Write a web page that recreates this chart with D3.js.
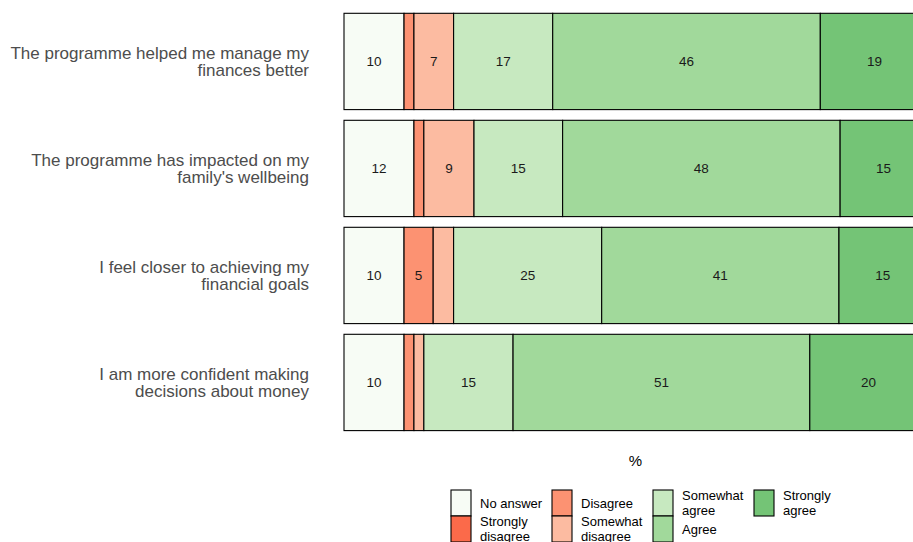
<!DOCTYPE html>
<html>
<head>
<meta charset="utf-8">
<script src="https://cdn.jsdelivr.net/npm/d3@7"></script>
<style>
  html, body { margin: 0; padding: 0; background: #fff; }
  svg { display: block; font-family: "Liberation Sans", Arial, Helvetica, sans-serif; }
</style>
</head>
<body>
<svg id="chart" width="913" height="542"></svg>
<script>
// ---- Data ----
const statements = [
  "The programme helped me manage my finances better",
  "The programme has impacted on my family's wellbeing",
  "I feel closer to achieving my financial goals",
  "I am more confident making decisions about money"
];
const statementLines = [
  ["The programme helped me manage my", "finances better"],
  ["The programme has impacted on my", "family's wellbeing"],
  ["I feel closer to achieving my", "financial goals"],
  ["I am more confident making", "decisions about money"]
];
const responses = ["No answer", "Strongly disagree", "Disagree", "Somewhat disagree", "Somewhat agree", "Agree", "Strongly agree"];
const legendLines = [["No answer"], ["Strongly", "disagree"], ["Disagree"], ["Somewhat", "disagree"], ["Somewhat", "agree"], ["Agree"], ["Strongly", "agree"]];
const colors = ["#f7fcf5", "#fb6a4a", "#fc9272", "#fcbba1", "#c7e9c0", "#a1d99b", "#74c476"];

// percentages per response, one array per response in statement order
const noAnswer         = [10.3, 12.0, 10.3, 10.3];
const stronglyDisagree = [0, 0, 0, 0];
const disagree         = [1.7, 1.7, 5.0, 1.7];
const somewhatDisagree = [6.8, 8.6, 3.5, 1.7];
const somewhatAgree    = [17.0, 15.2, 25.4, 15.3];
const agree            = [45.9, 47.6, 40.7, 50.9];
const stronglyAgree    = [18.6, 14.9, 15.0, 20.1];

const seriesValues = [noAnswer, stronglyDisagree, disagree, somewhatDisagree, somewhatAgree, agree, stronglyAgree];
const table = statements.map((s, i) => {
  const row = { statement: s };
  responses.forEach((r, j) => row[r] = seriesValues[j][i]);
  return row;
});

// ---- Layout ----
const svg = d3.select("#chart");
const x = d3.scaleLinear().domain([0, 100]).range([344, 927]);
const y = d3.scaleBand().domain(statements).range([2.6, 441.3]).padding(0.1);
const color = d3.scaleOrdinal().domain(responses).range(colors);

const stacked = d3.stack().keys(responses)(table);

const layers = svg.append("g").selectAll("g")
  .data(stacked).join("g")
  .attr("fill", d => color(d.key));

layers.selectAll("rect")
  .data(d => d.map(p => ({ p, key: d.key })))
  .join("rect")
  .filter(d => d.p[1] - d.p[0] > 0)
  .attr("x", d => x(d.p[0]))
  .attr("y", d => y(d.p.data.statement))
  .attr("width", d => x(d.p[1]) - x(d.p[0]))
  .attr("height", y.bandwidth())
  .attr("stroke", "#000")
  .attr("stroke-width", 1.1);

// value labels
svg.append("g").selectAll("text")
  .data(stacked.flatMap(d => d.map(p => ({ p, key: d.key }))).filter(d => d.p[1] - d.p[0] >= 4))
  .join("text")
  .attr("x", d => x((d.p[0] + d.p[1]) / 2))
  .attr("y", d => y(d.p.data.statement) + y.bandwidth() / 2)
  .attr("dy", "0.36em")
  .attr("text-anchor", "middle")
  .attr("font-size", 13.5)
  .attr("fill", "#1a1a1a")
  .text(d => Math.round(d.p[1] - d.p[0]));

// y axis labels
const yFont = 17, yLh = 17.5;
const yl = svg.append("g").selectAll("text")
  .data(statements).join("text")
  .attr("text-anchor", "end")
  .attr("font-size", yFont)
  .attr("fill", "#4d4d4d")
  .attr("x", 309)
  .attr("y", d => y(d) + y.bandwidth() / 2);
yl.each(function(d, i) {
  const lines = statementLines[i];
  const t = d3.select(this);
  lines.forEach((ln, k) => {
    t.append("tspan").attr("x", 309)
      .attr("dy", k === 0 ? (0.36 * yFont - yLh * (lines.length - 1) / 2) : yLh)
      .text(ln);
  });
});

// x axis title
svg.append("text")
  .attr("x", (x.range()[0] + x.range()[1]) / 2)
  .attr("y", 466)
  .attr("text-anchor", "middle")
  .attr("font-size", 15)
  .attr("fill", "#000")
  .text("%");

// legend
const legend = svg.append("g");
const keyW = 20, keyH = 26, colStep = 101, lx0 = 451, ly0 = 490;
responses.forEach((r, i) => {
  const col = Math.floor(i / 2), row = i % 2;
  const gx = lx0 + col * colStep, gy = ly0 + row * keyH;
  legend.append("rect")
    .attr("x", gx).attr("y", gy)
    .attr("width", keyW).attr("height", keyH)
    .attr("fill", color(r)).attr("stroke", "#000").attr("stroke-width", 1.1);
  const lines = legendLines[i];
  const t = legend.append("text")
    .attr("font-size", 13)
    .attr("fill", "#000")
    .attr("x", gx + 29)
    .attr("y", gy + keyH / 2);
  const lh = 15.5;
  lines.forEach((ln, k) => {
    t.append("tspan").attr("x", gx + 29)
      .attr("dy", k === 0 ? (0.36 * 13 - lh * (lines.length - 1) / 2) : lh)
      .text(ln);
  });
});
</script>
</body>
</html>
